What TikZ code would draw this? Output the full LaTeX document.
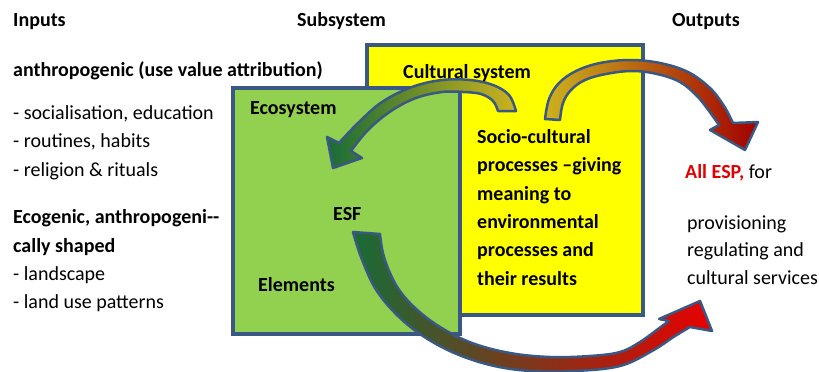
\documentclass[tikz,border=0pt]{standalone}
\usepackage{fontspec}
\setmainfont{Carlito}
\usetikzlibrary{positioning}
\definecolor{frameblue}{RGB}{58,88,132}
\definecolor{ecogreen}{RGB}{146,208,80}
\definecolor{cultyellow}{RGB}{255,255,0}
\definecolor{espred}{RGB}{226,0,0}
\definecolor{arrgold}{RGB}{204,178,30}
\definecolor{arrblue}{RGB}{62,104,162}
\definecolor{arrgreen}{RGB}{24,108,54}
\definecolor{arrslate}{RGB}{92,86,128}
\definecolor{arrdarkred}{RGB}{162,0,0}
\definecolor{arrbrown}{RGB}{150,96,30}
\definecolor{arrred}{RGB}{232,0,0}
\tikzset{
  txt/.style={anchor=base west, inner sep=0pt, align=left,
    font=\fontsize{20}{28}\selectfont},
  headtxt/.style={txt, font=\fontsize{20}{28.3}\selectfont\bfseries},
  sysbox/.style={draw=frameblue, line width=4pt},
  blockarrow/.style={draw=frameblue, line width=2.5pt, line join=round},
}
\begin{document}
\begin{tikzpicture}[x=1pt,y=-1pt]
  \useasboundingbox (0,0) rectangle (819,372);
  \draw[sysbox, fill=cultyellow] (367,45) rectangle (643,315);
  \draw[sysbox, fill=ecogreen] (233,88) rectangle (460,334);

  \draw[blockarrow, left color=arrgreen, middle color=arrblue, right color=arrgold]
    plot[smooth, tension=0.6] coordinates {(516,111) (509,95) (493,85) (470,80) (442,80)
      (412,87) (382,102) (358,123) (339,143)}
    -- (327,137) -- (333,168) -- (362,158)
    -- plot[smooth, tension=0.6] coordinates {(351,151) (368,130) (391,111) (416,98)
      (442,92) (463,92) (481,94) (493,101) (498,111)}
    -- cycle;
  \draw[blockarrow, left color=arrgold, middle color=arrslate, right color=arrdarkred]
    plot[smooth, tension=0.6] coordinates {(545,119) (549,99) (559,83) (576,71) (600,63)
      (630,60) (660,63) (688,72) (710,88) (724,106) (733,123)}
    -- (758,122) -- (745,150) -- (710,130)
    -- plot[smooth, tension=0.6] coordinates {(719,125) (709,111) (697,96) (680,82)
      (657,74) (632,71) (606,74) (585,80) (571,90) (563,103) (560,120)}
    -- cycle;
  \draw[blockarrow, left color=arrgreen, middle color=arrbrown, right color=arrred]
    plot[smooth, tension=0.6] coordinates {(353,232) (361,257) (375,288) (395,313)
      (420,334) (452,352) (490,365) (530,371) (575,371) (620,366) (652,351) (675,336) (690,327)}
    -- (712,331) -- (700,301) -- (659,319)
    -- plot[smooth, tension=0.6] coordinates {(669,321) (658,329) (640,342) (620,352)
      (590,356) (550,357) (510,353) (472,343) (440,327) (414,307) (396,285) (384,257) (380,234)}
    -- cycle;

  \node[headtxt] (inputs) at (13,27) {Inputs};
  \node[headtxt] (subsystem) at (297,27) {Subsystem};
  \node[headtxt] (outputs) at (672,27) {Outputs};
  \node[headtxt] (anthro) at (13,76) {anthropogenic (use value attribution)};
  \node[txt, font=\fontsize{20}{28.5}\selectfont] (uselist) at (13,176)
    {- socialisation, education\\- routines, habits\\- religion \& rituals};
  \node[headtxt] (ecogen) at (13,252) {Ecogenic, anthropogeni-{}-\\cally shaped};
  \node[txt] (landlist) at (13,308) {- landscape\\- land use patterns};

  \node[headtxt] (cultsys) at (403,78) {Cultural system};
  \node[headtxt] (ecosys) at (250,114) {Ecosystem};
  \node[headtxt] (esf) at (333,220) {ESF};
  \node[headtxt] (elements) at (258,291) {Elements};
  \node[headtxt] (socio) at (477,285)
    {Socio-cultural\\processes –giving\\meaning to\\environmental\\processes and\\their results};

  \node[txt] (allesp) at (685,178) {{\bfseries\color{espred}All ESP,} for};
  \node[txt, font=\fontsize{20}{27.5}\selectfont] (services) at (687,284)
    {provisioning\\regulating and\\cultural services};
\end{tikzpicture}
\end{document}
